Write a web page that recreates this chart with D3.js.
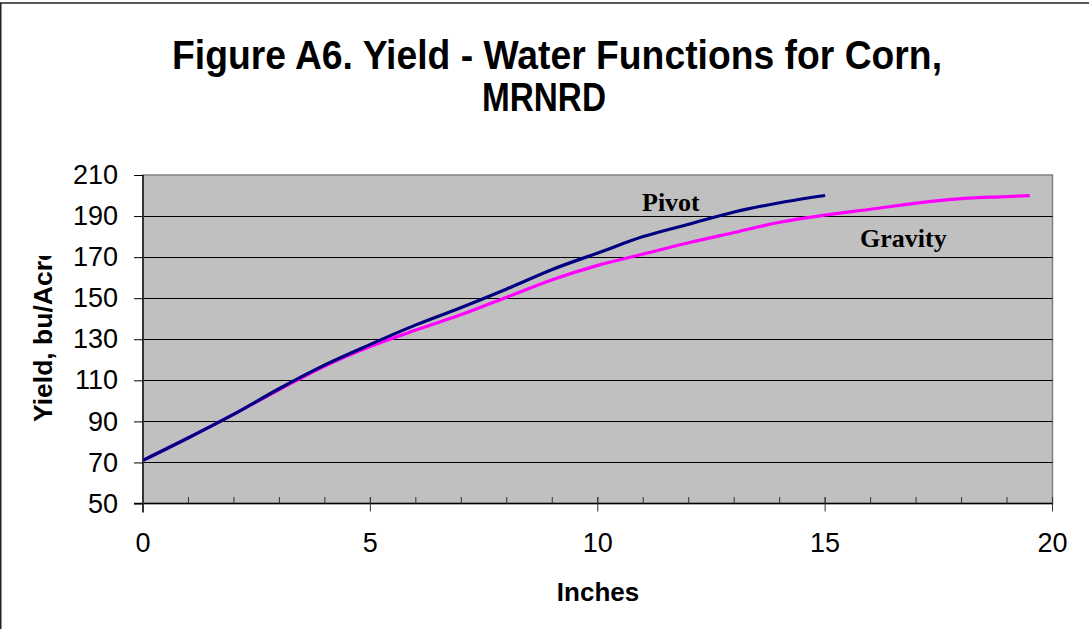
<!DOCTYPE html>
<html>
<head>
<meta charset="utf-8">
<script src="https://cdn.jsdelivr.net/npm/d3@7"></script>
<style>
  html, body { margin: 0; padding: 0; background: #ffffff; }
  svg { display: block; }
</style>
</head>
<body>
<svg id="chart" width="1089" height="629"></svg>
<script>
// Yield-water response for corn, MRNRD (bu/acre vs. inches of water)
const inchesPivot   = [0, 1, 2, 3, 4, 5, 6, 7, 8, 9, 10, 11, 12, 13, 14, 15];
const yieldPivot    = [71, 82, 93.5, 106, 117.5, 127.5, 137, 145.5, 154.5, 164, 172, 180, 186, 192, 196.5, 200];
const inchesGravity = [0, 1, 2, 3, 4, 5, 6, 7, 8, 9, 10, 11, 12, 13, 14, 15, 16, 17, 18, 19, 19.5];
const yieldGravity  = [71, 82, 93.5, 105.5, 117, 126.5, 134.5, 142, 150.5, 159, 166, 171.5, 177, 182, 187, 190.5, 193.3, 196.3, 198.5, 199.5, 200];
const yTicks = [50, 70, 90, 110, 130, 150, 170, 190, 210];
const xTicks = [0, 5, 10, 15, 20];
const xMinor = d3.range(0, 21, 1);

const svg = d3.select("#chart");

// outer chart frame
svg.append("rect")
  .attr("x", 0.75).attr("y", 3).attr("width", 1300).attr("height", 1000)
  .attr("fill", "none").attr("stroke", "#222").attr("stroke-width", 1.5);

const plotL = 143, plotR = 1052.5, plotT = 175, plotB = 503.5;
const x = d3.scaleLinear().domain([0, 20]).range([plotL, plotR]);
const y = d3.scaleLinear().domain([50, 210]).range([plotB, plotT]);

// plot area
svg.append("rect")
  .attr("x", plotL).attr("y", plotT).attr("width", plotR - plotL).attr("height", plotB - plotT)
  .attr("fill", "#C0C0C0").attr("stroke", "#808080").attr("stroke-width", 1.5);

// horizontal gridlines
svg.append("g").selectAll("line").data(yTicks.filter(d => d > 50 && d < 210)).join("line")
  .attr("x1", plotL).attr("x2", plotR)
  .attr("y1", d => Math.round(y(d)) + 0.5).attr("y2", d => Math.round(y(d)) + 0.5)
  .attr("stroke", "#000").attr("stroke-width", 1);

// y axis
const yAxis = d3.axisLeft(y).tickValues(yTicks).tickSize(9).tickPadding(16);
const gy = svg.append("g").attr("transform", `translate(${plotL},0)`).call(yAxis);
gy.select(".domain").attr("stroke", "#333").attr("stroke-width", 2)
  .attr("d", `M0,${plotT}V${plotB + 9}`);
gy.selectAll(".tick line").attr("stroke", "#000");
gy.selectAll(".tick text")
  .attr("font-family", "Liberation Sans, Arial, sans-serif")
  .attr("font-size", 27).attr("fill", "#000");

// x axis: minor ticks inside, major ticks crossing
const gx = svg.append("g").attr("transform", `translate(0,${plotB})`);
gx.append("line").attr("x1", plotL - 9).attr("x2", plotR).attr("y1", 0).attr("y2", 0)
  .attr("stroke", "#000").attr("stroke-width", 1.5);
gx.selectAll("line.minor").data(xMinor).join("line").attr("class", "minor")
  .attr("x1", d => x(d)).attr("x2", d => x(d)).attr("y1", -6.5).attr("y2", 0)
  .attr("stroke", "#333").attr("stroke-width", 1);
gx.selectAll("line.major").data(xTicks).join("line").attr("class", "major")
  .attr("x1", d => x(d)).attr("x2", d => x(d)).attr("y1", -6.5).attr("y2", 8)
  .attr("stroke", "#333").attr("stroke-width", 1);
gx.selectAll("text").data(xTicks).join("text")
  .attr("x", d => x(d)).attr("y", 48)
  .attr("text-anchor", "middle")
  .attr("font-family", "Liberation Sans, Arial, sans-serif")
  .attr("font-size", 27).attr("fill", "#000")
  .text(d => d);

// series lines
const line = d3.line().x(d => x(d[0])).y(d => y(d[1])).curve(d3.curveMonotoneX);
svg.append("path")
  .datum(inchesGravity.map((v, i) => [v, yieldGravity[i]]))
  .attr("d", line).attr("fill", "none")
  .attr("stroke", "#FF00FF").attr("stroke-width", 3.2)
  .attr("stroke-linejoin", "round");
svg.append("path")
  .datum(inchesPivot.map((v, i) => [v, yieldPivot[i]]))
  .attr("d", line).attr("fill", "none")
  .attr("stroke", "#000080").attr("stroke-width", 3.2)
  .attr("stroke-linejoin", "round");

// series labels
svg.append("text").attr("x", 642).attr("y", 211)
  .attr("font-family", "Liberation Serif, Times New Roman, serif")
  .attr("font-weight", "bold").attr("font-size", 26).attr("fill", "#000")
  .text("Pivot");
svg.append("text").attr("x", 860).attr("y", 247)
  .attr("font-family", "Liberation Serif, Times New Roman, serif")
  .attr("font-weight", "bold").attr("font-size", 26).attr("fill", "#000")
  .text("Gravity");

// title
const title = svg.append("g")
  .attr("font-family", "Liberation Sans Narrow, Liberation Sans, Arial, sans-serif")
  .attr("font-weight", "bold").attr("font-size", 41).attr("fill", "#000")
  .attr("text-anchor", "middle");
title.append("text").attr("x", 557).attr("y", 69)
  .attr("textLength", 770).attr("lengthAdjust", "spacingAndGlyphs")
  .text("Figure A6. Yield - Water Functions for Corn,");
title.append("text").attr("x", 544).attr("y", 111)
  .attr("textLength", 124).attr("lengthAdjust", "spacingAndGlyphs")
  .text("MRNRD");

// axis titles
svg.append("text").attr("x", 598).attr("y", 601)
  .attr("text-anchor", "middle")
  .attr("font-family", "Liberation Sans, Arial, sans-serif")
  .attr("font-weight", "bold").attr("font-size", 26).attr("fill", "#000")
  .text("Inches");

// y-axis title is clipped at the top edge of its slot
svg.append("clipPath").attr("id", "ytitle-clip")
  .append("rect").attr("x", 0).attr("y", 256).attr("width", 120).attr("height", 300);
svg.append("g")
  .attr("clip-path", "url(#ytitle-clip)")
  .append("text")
  .attr("transform", "translate(52,422) rotate(-90)")
  .attr("font-family", "Liberation Sans, Arial, sans-serif")
  .attr("font-weight", "bold").attr("font-size", 26.5).attr("fill", "#000")
  .text("Yield, bu/Acre");
</script>
</body>
</html>
